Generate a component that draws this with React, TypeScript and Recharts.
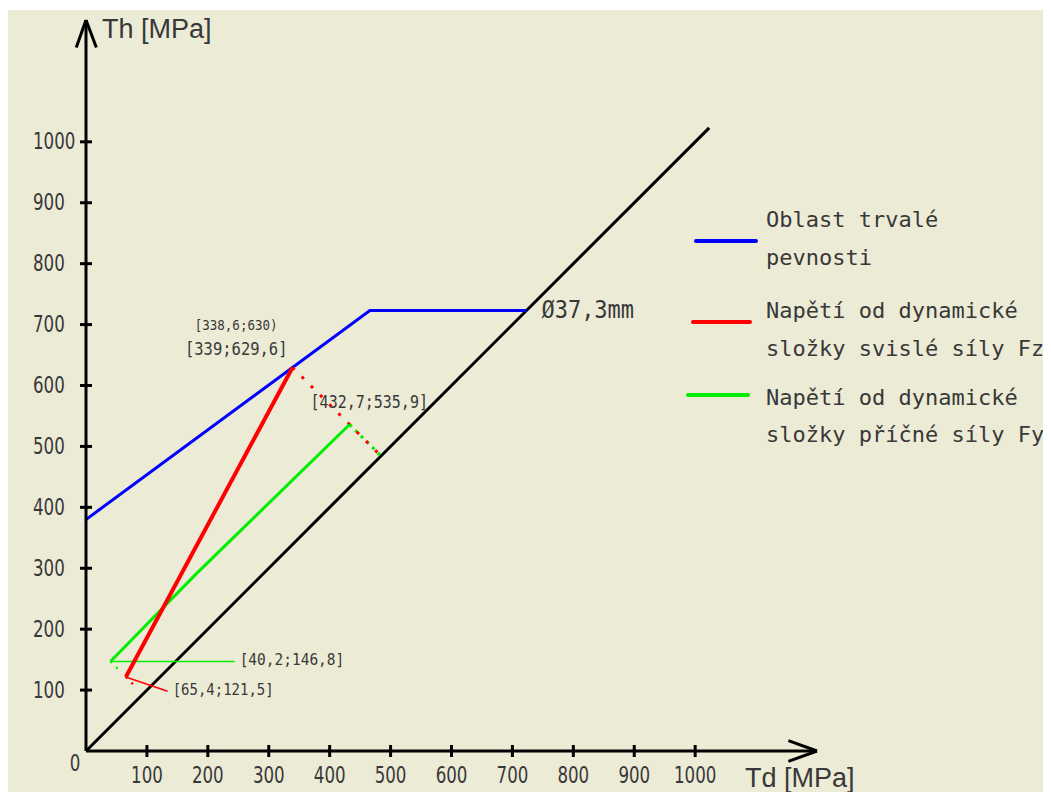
import React from 'react';
import { ComposedChart, Line, XAxis, YAxis, ReferenceLine, ReferenceDot } from 'recharts';

// ---------- data (MPa) ----------
const tickValues = [100, 200, 300, 400, 500, 600, 700, 800, 900, 1000];
const axisMax = 1200;

const diagonal = [
  { x: 0, y: 0 },
  { x: 1023, y: 1023 },
];
const enduranceLimit = [
  { x: 0, y: 380 },
  { x: 466, y: 723 },
  { x: 723, y: 723 },
];
const fzStress = [
  { x: 65.4, y: 121.5 },
  { x: 339, y: 629.6 },
];
const fzProjection = [
  { x: 339, y: 629.6 },
  { x: 484.3, y: 484.3 },
];
const fzProjectionLow = [
  { x: 65.4, y: 121.5 },
  { x: 80, y: 107 },
];
const fyStress = [
  { x: 40.2, y: 146.8 },
  { x: 180, y: 290 },
  { x: 432.7, y: 535.9 },
];
const fyProjection = [
  { x: 432.7, y: 535.9 },
  { x: 484.3, y: 484.3 },
];
const fyProjectionLow = [
  { x: 40.2, y: 146.8 },
  { x: 58, y: 129 },
];
const fyLeader = [
  { x: 40.2, y: 146.8 },
  { x: 244, y: 146.8 },
];
const fzLeader = [
  { x: 65.4, y: 121.5 },
  { x: 134, y: 98 },
];

const legendItems = [
  { lines: ['Oblast trvalé', 'pevnosti'], color: '#0000ff' },
  { lines: ['Napětí od dynamické', 'složky svislé síly Fz'], color: '#ff0000' },
  { lines: ['Napětí od dynamické', 'složky příčné síly Fy'], color: '#00ee00' },
];

const labelFz = '[339;629,6]';
const labelFzAlt = '[338,6;630)';
const labelFy = '[432,7;535,9]';
const labelFyLow = '[40,2;146,8]';
const labelFzLow = '[65,4;121,5]';
const labelDiameter = 'Ø37,3mm';
const yTitle = 'Th [MPa]';
const xTitle = 'Td [MPa]';

// ---------- styles ----------
const BG = '#ecebd6';
const TEXT = '#383838';
const MONO = "'DejaVu Sans Mono', monospace";
const NARROW = "'DejaVu Sans Condensed', 'DejaVu Sans', sans-serif";
const SANS = "'Liberation Sans', Arial, sans-serif";

const StretchText = ({ x, y, size, family, anchor = 'start', sy = 1.2, children }: any) => (
  <text
    transform={`translate(${x},${y}) scale(1,${sy})`}
    x={0}
    y={0}
    textAnchor={anchor}
    dominantBaseline="central"
    fontFamily={family}
    fontSize={size}
    fill={TEXT}
  >
    {children}
  </text>
);

const XTick = ({ x, y, payload }: any) => (
  <g>
    <line x1={x} x2={x} y1={y - 6} y2={y + 6} stroke="#000" strokeWidth={3} />
    <StretchText x={x} y={y + 24} size={18.5} family={NARROW} anchor="middle">
      {payload.value}
    </StretchText>
  </g>
);

const YTick = ({ x, y, payload }: any) => (
  <g>
    <line x1={x - 6} x2={x + 6} y1={y} y2={y} stroke="#000" strokeWidth={3} />
    <StretchText x={x - 53} y={y} size={18.5} family={NARROW} anchor="start">
      {payload.value}
    </StretchText>
  </g>
);

const note = (text: string, dx: number, dy: number, size: number, anchor: string = 'start', family: string = MONO, sy: number = 1.15) =>
  (p: any) => (
    <StretchText x={p.cx + dx} y={p.cy + dy} size={size} family={family} anchor={anchor} sy={sy}>
      {text}
    </StretchText>
  );

const lineProps = {
  dataKey: 'y',
  dot: false,
  activeDot: false,
  isAnimationActive: false,
  legendType: 'none' as const,
  type: 'linear' as const,
};

const legendSegments = [
  { left: 686, top: 229, width: 64 },
  { left: 683, top: 310, width: 61 },
  { left: 678, top: 383, width: 64 },
];
const legendTextTops = [
  [195, 233],
  [286, 324],
  [373, 410],
];

export default function App() {
  return (
    <div style={{ position: 'relative', width: 1043, height: 782, marginTop: 2, background: BG }}>
      <ComposedChart
        width={1043}
        height={782}
        margin={{ top: 10, left: 77, right: 234, bottom: 40 }}
      >
        <XAxis
          type="number"
          dataKey="x"
          domain={[0, axisMax]}
          allowDataOverflow
          ticks={tickValues}
          interval={0}
          height={1}
          tickSize={0}
          tickMargin={0}
          tickLine={false}
          tick={<XTick />}
          axisLine={{ stroke: '#000', strokeWidth: 3 }}
        />
        <YAxis
          type="number"
          dataKey="y"
          domain={[0, axisMax]}
          allowDataOverflow
          ticks={tickValues}
          interval={0}
          width={1}
          tickSize={0}
          tickMargin={0}
          tickLine={false}
          tick={<YTick />}
          axisLine={{ stroke: '#000', strokeWidth: 3 }}
        />

        <Line {...lineProps} data={diagonal} stroke="#000" strokeWidth={3} />
        <Line {...lineProps} data={enduranceLimit} stroke="#0000ff" strokeWidth={3} />
        <Line {...lineProps} data={fyLeader} stroke="#00ee00" strokeWidth={1.5} />
        <Line {...lineProps} data={fzLeader} stroke="#ff0000" strokeWidth={1.5} />
        <Line {...lineProps} data={fyProjection} stroke="#00ee00" strokeWidth={3} strokeDasharray="3 5" />
        <Line {...lineProps} data={fzProjection} stroke="#ff0000" strokeWidth={3} strokeDasharray="3 10" />
        <Line {...lineProps} data={fyProjectionLow} stroke="#00ee00" strokeWidth={2.5} strokeDasharray="2 6" />
        <Line {...lineProps} data={fzProjectionLow} stroke="#ff0000" strokeWidth={2.5} strokeDasharray="2 6" />
        <Line {...lineProps} data={fyStress} stroke="#00ee00" strokeWidth={3} />
        <Line {...lineProps} data={fzStress} stroke="#ff0000" strokeWidth={4} />

        {/* axis arrows */}
        <ReferenceLine segment={[{ x: 0, y: axisMax }, { x: -16, y: 1155 }]} stroke="#000" strokeWidth={3} ifOverflow="visible" />
        <ReferenceLine segment={[{ x: 0, y: axisMax }, { x: 17, y: 1155 }]} stroke="#000" strokeWidth={3} ifOverflow="visible" />
        <ReferenceLine segment={[{ x: axisMax, y: 0 }, { x: 1153, y: 17 }]} stroke="#000" strokeWidth={3} ifOverflow="visible" />
        <ReferenceLine segment={[{ x: axisMax, y: 0 }, { x: 1153, y: -17 }]} stroke="#000" strokeWidth={3} ifOverflow="visible" />

        {/* annotations */}
        <ReferenceDot x={0} y={axisMax} r={0} ifOverflow="visible" shape={note(yTitle, 16, 9, 27, 'start', SANS, 1)} />
        <ReferenceDot x={axisMax} y={0} r={0} ifOverflow="visible" shape={note(xTitle, -72, 27, 27, 'start', SANS, 1)} />
        <ReferenceDot x={0} y={0} r={0} ifOverflow="visible" shape={note('0', -11, 12, 18.5, 'middle', NARROW, 1.2)} />
        <ReferenceDot x={339} y={629.6} r={0} ifOverflow="visible" shape={note(labelFzAlt, -15, -43, 12.5, 'end')} />
        <ReferenceDot x={339} y={629.6} r={0} ifOverflow="visible" shape={note(labelFz, -5, -19, 15.5, 'end')} />
        <ReferenceDot x={432.7} y={535.9} r={0} ifOverflow="visible" shape={note(labelFy, -39, -22, 15)} />
        <ReferenceDot x={244} y={146.8} r={0} ifOverflow="visible" shape={note(labelFyLow, 5, -2, 14.5)} />
        <ReferenceDot x={134} y={98} r={0} ifOverflow="visible" shape={note(labelFzLow, 5, -2, 14)} />
        <ReferenceDot x={723} y={723} r={0} ifOverflow="visible" shape={note(labelDiameter, 15, -1, 22, 'start', MONO, 1.1)} />
      </ComposedChart>

      {legendItems.map((item, i) => (
        <React.Fragment key={i}>
          <div
            style={{
              position: 'absolute',
              left: legendSegments[i].left,
              top: legendSegments[i].top,
              width: legendSegments[i].width,
              height: 4,
              borderRadius: 2,
              background: item.color,
            }}
          />
          {item.lines.map((t, j) => (
            <div
              key={j}
              style={{
                position: 'absolute',
                left: 758,
                top: legendTextTops[i][j],
                fontFamily: MONO,
                fontSize: 22,
                lineHeight: '30px',
                color: TEXT,
                whiteSpace: 'nowrap',
              }}
            >
              {t}
            </div>
          ))}
        </React.Fragment>
      ))}
    </div>
  );
}
